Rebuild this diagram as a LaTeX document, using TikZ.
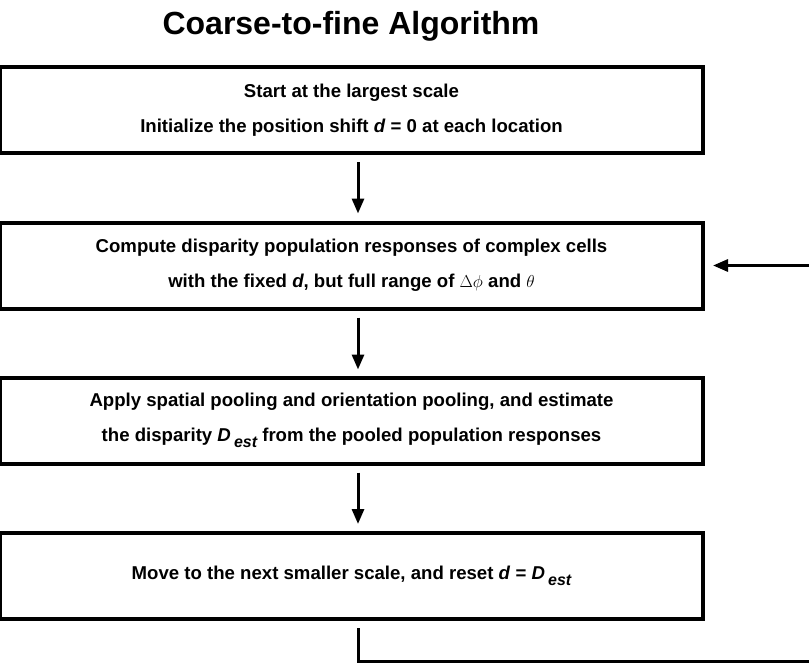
\documentclass[tikz,border=0pt]{standalone}
\usepackage{fontspec}
\setmainfont{Liberation Sans}
\usetikzlibrary{arrows.meta}

% bold italic sub-script used for D_est
\newcommand{\estsub}{\raisebox{-6pt}{\fontsize{16}{16}\selectfont\itshape est}}

\begin{document}
\begin{tikzpicture}[x=1pt,y=-1pt,
  stepbox/.style={draw, line width=4pt, minimum width=703pt, minimum height=86pt,
    inner sep=0pt, align=center, font=\fontsize{18.6}{35}\selectfont\bfseries},
  flow/.style={line width=3pt, -{Triangle[length=15pt,width=12pt]}},
  titletext/.style={font=\fontsize{32}{34}\selectfont\bfseries}]
\useasboundingbox (0,0) rectangle (809,662);

\node[titletext] (title) at (351,26) {Coarse-to-fine Algorithm};

\node[stepbox] (b1) at (351.5,110)
  {Start at the largest scale\\Initialize the position shift \textit{d} = 0 at each location};
\node[stepbox] (b2) at (351.5,265.5)
  {Compute disparity population responses of complex cells\\
   with the fixed \textit{d}, but full range of {\mdseries$\Delta\phi$} and {\mdseries$\theta$}};
\node[stepbox] (b3) at (351.5,420.5)
  {Apply spatial pooling and orientation pooling, and estimate\\
   the disparity \textit{D}\,\estsub{} from the pooled population responses};
\node[stepbox] (b4) at (351.5,576)
  {Move to the next smaller scale, and reset \textit{d} = \textit{D}\,\estsub};

% forward steps, slightly right of the box centres
\coordinate (a1s) at (358,155);
\coordinate (a1e) at (358,220.5);
\coordinate (a2s) at (358,310.5);
\coordinate (a2e) at (358,376.5);
\coordinate (a3s) at (358,465.5);
\coordinate (a3e) at (358,531);
\draw[flow, shorten <=7pt, shorten >=7pt] (a1s) -- (a1e);
\draw[flow, shorten <=7pt, shorten >=7pt] (a2s) -- (a2e);
\draw[flow, shorten <=7pt, shorten >=7pt] (a3s) -- (a3e);

% loop back to the next scale
\coordinate (l0) at (358,621);
\coordinate (c1) at (358,661);
\coordinate (c2) at (840,661);
\draw[flow, shorten <=7pt, shorten >=8pt] (l0) -- (c1) -- (c2) |- (b2.east);
\end{tikzpicture}
\end{document}
